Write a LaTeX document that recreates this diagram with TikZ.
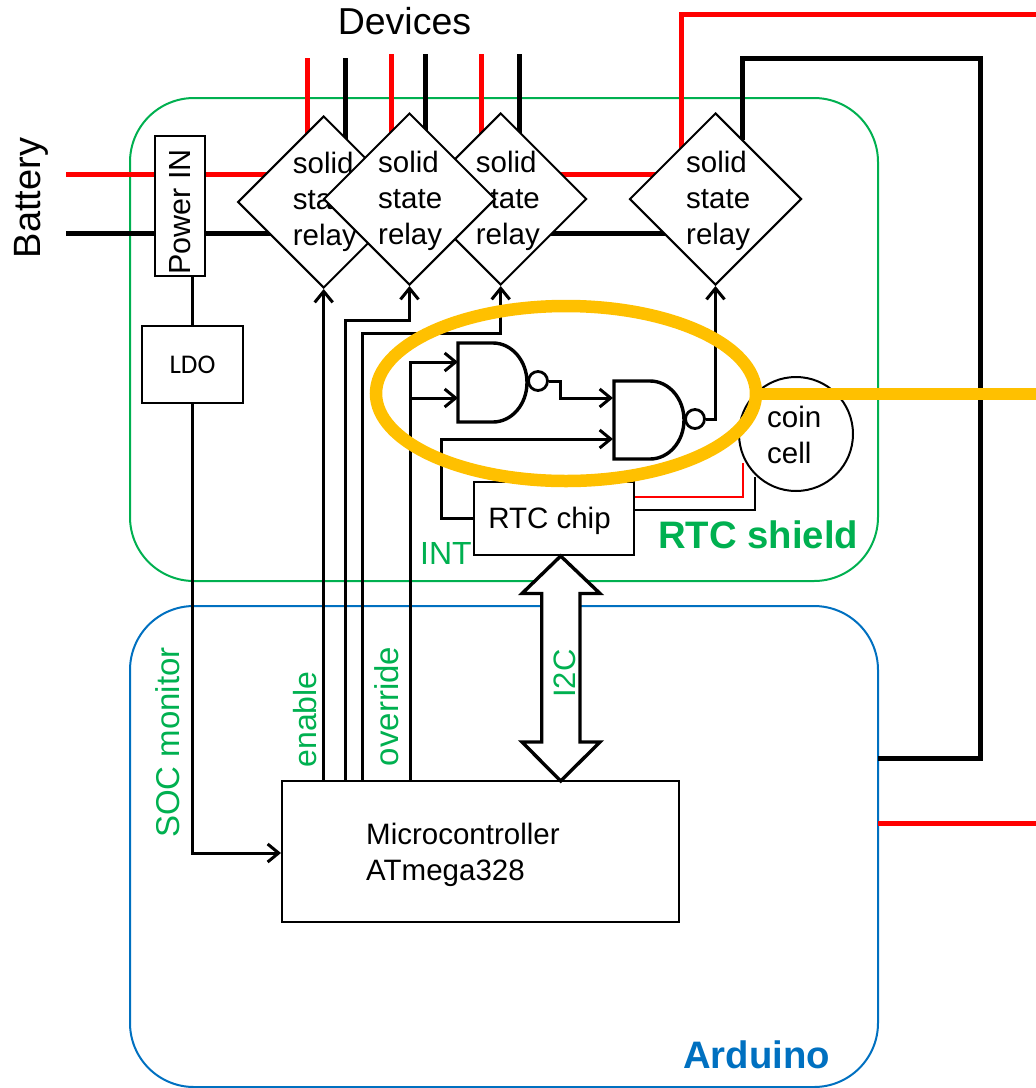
\documentclass[tikz,border=0pt]{standalone}
\usepackage{fontspec}
\setmainfont{Liberation Sans}
\newfontfamily\ldofont{Carlito}
\usetikzlibrary{shapes.geometric,arrows.meta}
\definecolor{gshield}{HTML}{00B050}
\definecolor{barduino}{HTML}{0070C0}
\definecolor{hilite}{HTML}{FFC000}
\definecolor{wred}{HTML}{FF0000}
\tikzset{
  frameg/.style={draw=gshield,line width=2pt,rounded corners=64pt},
  frameb/.style={draw=barduino,line width=2pt,rounded corners=64pt},
  redw/.style={draw=wred,line width=5pt},
  blkw/.style={draw=black,line width=5pt},
  relay/.style={shape=diamond,draw=black,fill=white,line width=2pt,inner sep=0pt,aspect=1,minimum width=172pt,minimum height=172pt},
  relaytext/.style={anchor=base west,align=left,inner sep=0pt,font=\fontsize{29.5}{36}\selectfont},
  box/.style={draw=black,fill=white,line width=2pt,inner sep=0pt},
  sig/.style={draw=black,line width=3pt,-{Straight Barb[length=11pt,width=18pt,line width=3pt]}},
  plain/.style={draw=black,line width=3pt},
  gate/.style={draw=black,fill=white,line width=3.4pt},
  bubble/.style={shape=circle,draw=black,fill=white,line width=2.8pt,inner sep=0pt,minimum size=19pt},
  gtext/.style={text=gshield,font=\fontsize{32}{32}\selectfont},
  btext/.style={text=black,font=\fontsize{29.5}{36}\selectfont},
}
\begin{document}
\begin{tikzpicture}[x=1pt,y=-1pt]
\useasboundingbox (0,0) rectangle (1036,1088);
% frames
\draw[frameg] (130,98) rectangle (878,581);
\draw[frameb] (130,606) rectangle (878,1087);
% free ends
\coordinate (batR) at (66,174);
\coordinate (batB) at (66,233);
\coordinate (redTop) at (1036,14);
\coordinate (redBot) at (1036,823);
\coordinate (ardR) at (878,823);
\coordinate (ardB) at (878,758);
% feeds
\draw[redw] (batR) -- (660,174);
\draw[blkw] (batB) -- (680,233);
\draw[redw] (307,58) -- (307,150);
\draw[blkw] (345,58) -- (345,150);
\draw[redw] (391,54) -- (391,150);
\draw[blkw] (425.5,54) -- (425.5,150);
\draw[redw] (481.5,54) -- (481.5,150);
\draw[blkw] (519,54) -- (519,150);
\draw[redw] (redTop) -- (681,14) -- (681,150);
\draw[blkw] (742,140) -- (742,58) -- (980,58) -- (980,758) -- (ardB);
\draw[redw] (ardR) -- (redBot);
% relays
\node[relay] (d1) at (323.7,202) {};
\node[relaytext] (t1) at (292.7,245) {solid\\state\\relay};
\node[relay] (d3) at (500.7,199) {};
\node[relaytext] (t3) at (475.7,244) {solid\\state\\relay};
\node[relay] (d4) at (715.5,199) {};
\node[relaytext] (t4) at (686,244) {solid\\state\\relay};
\node[relay] (d2) at (409.5,199) {};
\node[relaytext] (t2) at (378,244) {solid\\state\\relay};
% blocks
\node[box,minimum width=50pt,minimum height=140pt] (pwr) at (180,205.5) {};
\node[rotate=90,anchor=base,font=\fontsize{30.5}{30}\selectfont] (pwrt) at (190,212) {Power IN};
\node[box,minimum width=101pt,minimum height=77pt,font=\ldofont\fontsize{27}{27}\selectfont] (ldo) at (192.5,364.5) {LDO};
\node[box,minimum width=397pt,minimum height=141pt] (mcu) at (480.5,851.5) {};
\node[btext,anchor=base west,align=left,inner sep=0pt] (mcut) at (366,880) {Microcontroller\\ATmega328};
\node[box,minimum width=160pt,minimum height=73pt] (rtc) at (554,518.5) {};
\node[btext,anchor=base] (rtct) at (549.5,528) {RTC chip};
\node[shape=circle,draw=black,fill=white,line width=2pt,minimum size=114pt,inner sep=0pt] (coin) at (796,434) {};
\node[btext,anchor=base west,align=left,inner sep=0pt] (coint) at (767,463) {coin\\cell};
% connectors
\draw[plain] (pwr.south -| ldo.north) -- (ldo.north);
\draw[sig] (ldo.south) -- (192.5,853) -- (mcu.west |- 0,853);
\draw[sig] (mcu.north -| d1.south) -- (d1.south);
\draw[sig] (345,781) -- (345,320) -- (d2.south |- 0,320) -- (d2.south);
\draw[sig] (362,781) -- (362,333) -- (d3.south |- 0,333) -- (d3.south);
% gates
\coordinate (g1a) at (458,362);
\coordinate (g1b) at (458,398);
\coordinate (g2a) at (613,398);
\coordinate (g2b) at (613,439);
\draw[gate] (458,343) -- (493,343) .. controls (511.8,343) and (527,360.8) .. (527,382.5) .. controls (527,404.3) and (511.8,422) .. (493,422) -- (458,422) -- cycle;
\draw[gate] (614,381) -- (650,381) .. controls (668.8,381) and (684,398.5) .. (684,420) .. controls (684,441.5) and (668.8,459) .. (650,459) -- (614,459) -- cycle;
\node[bubble] (b1) at (538,381) {};
\node[bubble] (b2) at (695,419) {};
\draw[sig] (410,781) -- (410,362) -- (g1a);
\draw[sig] (410,398) -- (g1b);
\draw[sig] (b1.east) -- (560,381) -- (560,398) -- (g2a);
\draw[sig] (b2.east) -- (d4.south |- b2.east) -- (d4.south);
\draw[sig] (rtc.west |- 0,518) -- (441,518) -- (441,439) -- (g2b);
\draw[draw=wred,line width=2pt] (rtc.east |- 0,497) -- (743,497) -- (743,463);
\draw[draw=black,line width=1.6pt] (633,510) -- (755,510) -- (755,477);
% I2C double arrow
\coordinate (i2cTop) at (560.7,556);
\coordinate (i2cBot) at (560.7,781);
\draw[draw=black,fill=white,line width=3.4pt,line join=miter] (i2cTop) -- (600,593.5) -- (580,593.5) -- (580,742) -- (600,742) -- (i2cBot) -- (522,742) -- (541.7,742) -- (541.7,593.5) -- (522,593.5) -- cycle;
% highlight
\node[shape=ellipse,draw=hilite,line width=12.5pt,minimum width=380pt,minimum height=175pt,inner sep=0pt] (hl) at (566,393.5) {};
\coordinate (hlEnd) at (1036,393.5);
\draw[draw=hilite,line width=12pt] (hl.east) -- (hlEnd);
% labels
\node[anchor=base,font=\fontsize{37.5}{37.5}\selectfont] (devices) at (404.5,34) {Devices};
\node[rotate=90,anchor=base,font=\fontsize{38}{38}\selectfont] (battery) at (41,198) {Battery};
\node[gtext,anchor=base west,inner sep=0pt] (int) at (420,564) {INT};
\node[gtext,rotate=90,anchor=base] (en) at (316.7,719.5) {enable};
\node[gtext,rotate=90,anchor=base,font=\fontsize{33}{33}\selectfont] (ov) at (398,706.5) {override};
\node[gtext,rotate=90,anchor=base,font=\fontsize{31}{31}\selectfont] (i2c) at (575,673.5) {I2C};
\node[gtext,rotate=90,anchor=base,font=\fontsize{33}{33}\selectfont] (soc) at (179,742.5) {SOC monitor};
\node[anchor=base west,inner sep=0pt,text=gshield,font=\bfseries\fontsize{38.3}{38.3}\selectfont] (shield) at (658,548) {RTC shield};
\node[anchor=base west,inner sep=0pt,text=barduino,font=\bfseries\fontsize{38.3}{38.3}\selectfont] (ard) at (683,1068) {Arduino};
\end{tikzpicture}
\end{document}
